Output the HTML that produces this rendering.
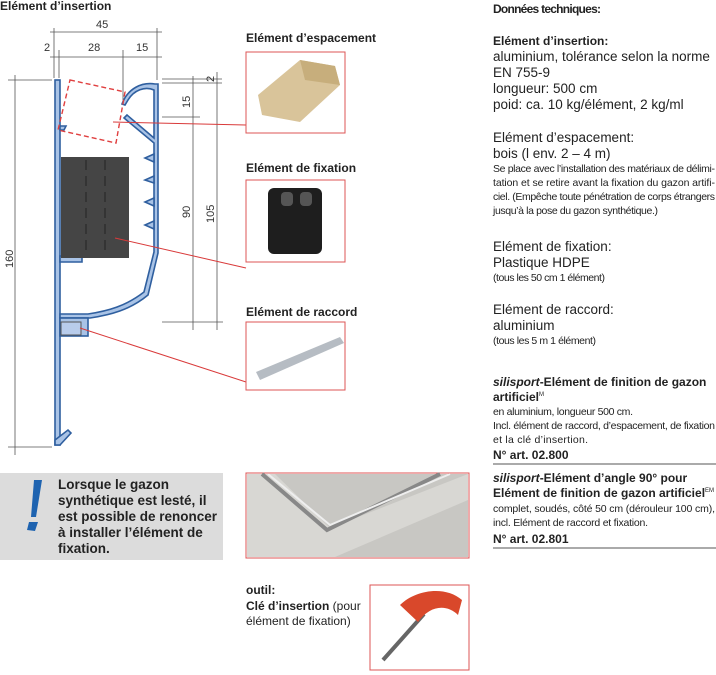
<!DOCTYPE html>
<html><head><meta charset="utf-8"><style>
html,body{margin:0;padding:0;background:#fff;}
svg{display:block;font-family:"Liberation Sans",sans-serif;}
.b{font-weight:bold;}
.t{font-size:13.5px;fill:#222;}
.s{font-size:10.5px;fill:#222;}
.h{font-size:12px;font-weight:bold;fill:#222;}
.d{stroke:#555;stroke-width:0.8;fill:none;}
.dim{font-size:11px;fill:#333;}
.pr{fill:#a9c3e6;stroke:#2f5f9f;stroke-width:1.6;}
.red{stroke:#d93a3a;stroke-width:1;fill:none;}
</style></head><body>
<svg width="716" height="675" viewBox="0 0 716 675">
<!-- title -->
<text x="0" y="10" class="h">Elément d’insertion</text>
<!-- dimension lines -->
<line class="d" x1="50" y1="32" x2="162" y2="32"/>
<line class="d" x1="50" y1="57" x2="162" y2="57"/>
<line class="d" x1="54" y1="28" x2="54" y2="78"/>
<line class="d" x1="59" y1="50" x2="59" y2="78"/>
<line class="d" x1="123" y1="50" x2="123" y2="100"/>
<line class="d" x1="157" y1="28" x2="157" y2="80"/>
<text x="96" y="28" class="dim">45</text>
<text x="44" y="51" class="dim">2</text>
<text x="88" y="51" class="dim">28</text>
<text x="136" y="51" class="dim">15</text>
<line class="d" x1="8" y1="80" x2="52" y2="80"/>
<line class="d" x1="8" y1="447" x2="52" y2="447"/>
<line class="d" x1="15" y1="75" x2="15" y2="455"/>
<text x="0" y="0" class="dim" transform="translate(13,268) rotate(-90)">160</text>
<line class="d" x1="162" y1="83" x2="222" y2="83"/>
<line class="d" x1="162" y1="79" x2="222" y2="79"/>
<line class="d" x1="162" y1="117" x2="200" y2="117"/>
<line class="d" x1="162" y1="322" x2="223" y2="322"/>
<line class="d" x1="193" y1="76" x2="193" y2="330"/>
<line class="d" x1="217" y1="72" x2="217" y2="330"/>
<text x="0" y="0" class="dim" transform="translate(190,218) rotate(-90)">90</text>
<text x="0" y="0" class="dim" transform="translate(214,223) rotate(-90)">105</text>
<text x="0" y="0" class="dim" transform="translate(190,108) rotate(-90)">15</text>
<text x="0" y="0" class="dim" transform="translate(214,82) rotate(-90)">2</text>
<!-- profile -->
<rect class="pr" x="55" y="80" width="5" height="365"/>
<path class="pr" d="M55,445 L55,440 L68,430 L71,433 L60,445 Z"/>
<path class="pr" d="M60,126 L66,126 L64,130 L60,130 Z"/>
<path class="pr" d="M60,256 L82,256 L82,262 L60,262 Z"/>
<path class="pr" d="M155,84 L158,84 L158,253 L148,295 C130,310 110,315 90,318 L60,318 L60,314 L88,314 C108,311 126,306 144,292 L154,252 L154,143 L124,118 L127,115 L154,138 L154,90 C145,86 134,90 128,100 L125,105 L122,104 C128,88 142,82 155,84 Z"/>
<path class="pr" d="M154,162 L145,158 L154,154Z M154,183 L145,180 L154,176Z M154,206 L145,202 L154,198Z M154,229 L145,225 L154,221Z"/>
<rect class="pr" x="60" y="318" width="28" height="18"/>
<rect x="61" y="322" width="20" height="13" fill="#b8cceb" stroke="#555" stroke-width="1"/>
<!-- dashed spacer -->
<polygon points="70,80 125,92 116,143 58,130" fill="none" stroke="#e04040" stroke-width="1.4" stroke-dasharray="5,3"/>
<!-- fixation block -->
<rect x="61" y="157" width="68" height="101" fill="#454545"/>
<path d="M86,160 V255 M105,160 V255" stroke="#222" stroke-width="1" stroke-dasharray="10,6" fill="none"/>
<!-- red leaders -->
<line class="red" x1="113" y1="122" x2="246" y2="125"/>
<line class="red" x1="115" y1="238" x2="246" y2="268"/>
<line class="red" x1="80" y1="328" x2="246" y2="382"/>
<!-- photo boxes -->
<text x="246" y="42" class="h">Elément d’espacement</text>
<rect x="246" y="52" width="99" height="81" fill="#fff" stroke="#d55" stroke-width="1"/>
<polygon points="258,95 300,60 335,66 340,85 300,122 262,115" fill="#d9c49a"/>
<polygon points="300,60 335,66 340,85 305,80" fill="#c7ae7c"/>
<text x="246" y="172" class="h">Elément de fixation</text>
<rect x="246" y="180" width="99" height="82" fill="#fff" stroke="#d55" stroke-width="1"/>
<rect x="268" y="188" width="54" height="66" rx="6" fill="#1e1e1e"/>
<rect x="281" y="192" width="12" height="14" rx="4" fill="#555"/>
<rect x="300" y="192" width="12" height="14" rx="4" fill="#555"/>
<text x="246" y="316" class="h">Elément de raccord</text>
<rect x="246" y="322" width="99" height="68" fill="#fff" stroke="#d55" stroke-width="1"/>
<polygon points="256,372 340,337 344,343 260,380" fill="#b6bcc3"/>
<rect x="246" y="473" width="223" height="85" fill="#fff" stroke="#d55" stroke-width="1"/>
<rect x="247" y="474" width="221" height="83" fill="#c8c7c3"/>
<polygon points="247,474 275,474 330,528 468,474 468,500 335,557 247,557" fill="#d8d7d3"/>
<path d="M262,474 L327,530 L440,474" stroke="#888" stroke-width="4" fill="none"/>
<path d="M268,474 L330,525 L450,474" stroke="#eee" stroke-width="2" fill="none"/>
<text x="246" y="594" class="h">outil:</text>
<text x="246" y="610" style="font-size:12px;fill:#222"><tspan class="b">Clé d’insertion</tspan> (pour</text>
<text x="246" y="625" style="font-size:12px;fill:#222">élément de fixation)</text>
<rect x="370" y="585" width="99" height="85" fill="#fff" stroke="#d55" stroke-width="1"/>
<line x1="383" y1="660" x2="424" y2="614" stroke="#666" stroke-width="4"/>
<path d="M400,605 C415,590 445,585 462,600 L458,615 C447,604 430,605 418,622 Z" fill="#d9482b"/>
<!-- callout -->
<rect x="0" y="473" width="223" height="87" fill="#dcdcdc"/>
<path d="M34,480 L42,480 L36,517 L31,517 Z" fill="#1e63b0"/>
<path d="M29,522 L38,522 L35,531 L27,530 Z" fill="#1e63b0"/>
<g class="b" style="font-size:13.5px;fill:#222">
<text x="58" y="489">Lorsque le gazon</text>
<text x="58" y="505">synthétique est lesté, il</text>
<text x="58" y="521">est possible de renoncer</text>
<text x="58" y="537">à installer l’élément de</text>
<text x="58" y="553">fixation.</text>
</g>
<!-- right column -->
<text x="493" y="13" class="h" textLength="108">Données techniques:</text>
<text x="493" y="45" class="h">Elément d’insertion:</text>
<text x="493" y="61" class="t">aluminium, tolérance selon la norme</text>
<text x="493" y="77" class="t">EN 755-9</text>
<text x="493" y="93" class="t">longueur: 500 cm</text>
<text x="493" y="109" class="t">poid: ca. 10 kg/élément, 2 kg/ml</text>
<text x="493" y="142" class="t">Elément d’espacement:</text>
<text x="493" y="158" class="t">bois (l env. 2 – 4 m)</text>
<text x="493" y="172" class="s" textLength="222">Se place avec l’installation des matériaux de délimi-</text>
<text x="493" y="186" class="s" textLength="222">tation et se retire avant la fixation du gazon artifi-</text>
<text x="493" y="200" class="s" textLength="222">ciel. (Empêche toute pénétration de corps étrangers</text>
<text x="493" y="214" class="s" textLength="165">jusqu’à la pose du gazon synthétique.)</text>
<text x="493" y="251" class="t">Elément de fixation:</text>
<text x="493" y="267" class="t">Plastique HDPE</text>
<text x="493" y="281" class="s" textLength="112">(tous les 50 cm 1 élément)</text>
<text x="493" y="314" class="t">Elément de raccord:</text>
<text x="493" y="330" class="t">aluminium</text>
<text x="493" y="344" class="s" textLength="103">(tous les 5 m 1 élément)</text>
<text x="493" y="386" class="h"><tspan font-style="italic">silisport</tspan>-Elément de finition de gazon</text>
<text x="493" y="401" class="h">artificiel<tspan font-size="6" dy="-5" font-weight="normal">M</tspan></text>
<text x="493" y="415" class="s" textLength="140">en aluminium, longueur 500 cm.</text>
<text x="493" y="429" class="s" textLength="222">Incl. élément de raccord, d’espacement, de fixation</text>
<text x="493" y="443" class="s" textLength="95">et la clé d’insertion.</text>
<text x="493" y="459" class="h">N° art. 02.800</text>
<line x1="493" y1="464" x2="716" y2="464" stroke="#777" stroke-width="1.2"/>
<text x="493" y="482" class="h"><tspan font-style="italic">silisport</tspan>-Elément d’angle 90° pour</text>
<text x="493" y="497" class="h">Elément de finition de gazon artificiel<tspan font-size="6" dy="-5" font-weight="normal">EM</tspan></text>
<text x="493" y="512" class="s" textLength="222">complet, soudés, côté 50 cm (dérouleur 100 cm),</text>
<text x="493" y="526" class="s" textLength="155">incl. Elément de raccord et fixation.</text>
<text x="493" y="543" class="h">N° art. 02.801</text>
<line x1="493" y1="548" x2="716" y2="548" stroke="#777" stroke-width="1.2"/>
</svg>
</body></html>
